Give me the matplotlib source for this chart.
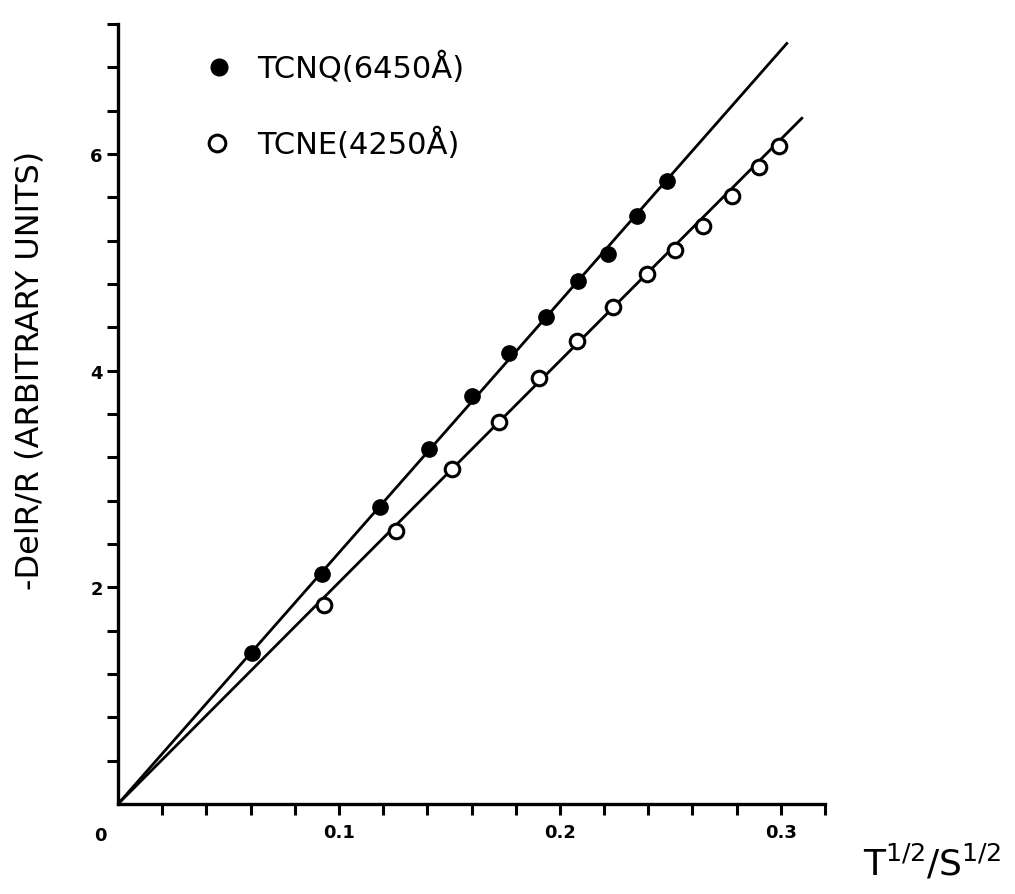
import numpy as np
import matplotlib
matplotlib.use("Agg")
import matplotlib.pyplot as plt

# Données
tcnq_x = [0.0606, 0.0923, 0.1186, 0.1407, 0.1602, 0.1769, 0.1937, 0.2081, 0.2217, 0.2348, 0.2484]
tcnq_y = [1.395, 2.12, 2.74, 3.28, 3.77, 4.16, 4.50, 4.83, 5.08, 5.43, 5.75]

tcne_x = [0.0932, 0.1258, 0.1511, 0.1724, 0.1905, 0.2077, 0.2240, 0.2394, 0.2520, 0.2647, 0.2778, 0.2900, 0.2991]
tcne_y = [1.84, 2.52, 3.09, 3.53, 3.93, 4.27, 4.59, 4.89, 5.11, 5.34, 5.61, 5.88, 6.07]

# Droites tracées à la main (origine -> extrémité)
tcnq_fit_x = [0.0, 0.3027]
tcnq_fit_y = [0.0, 7.02]
tcne_fit_x = [0.0, 0.3095]
tcne_fit_y = [0.0, 6.33]

x_ticks = np.arange(1, 17) * 0.02
x_labels = {0.1: "0.1", 0.2: "0.2", 0.3: "0.3"}
y_ticks = np.arange(1, 19) * 0.4
y_labels = {2: "2", 4: "4", 6: "6"}

legend_labels = ["TCNQ(6450Å)", "TCNE(4250Å)"]

fig = plt.figure(figsize=(10.15, 8.95), dpi=100)
ax = fig.add_axes([118 / 1015, 90 / 895, 707 / 1015, 780 / 895])

ax.plot(tcnq_fit_x, tcnq_fit_y, color="black", lw=2.0, zorder=2)
ax.plot(tcne_fit_x, tcne_fit_y, color="black", lw=2.0, zorder=2)
ax.plot(tcnq_x, tcnq_y, "o", color="black", ms=11, zorder=3)
ax.plot(tcne_x, tcne_y, "o", mfc="white", mec="black", mew=2.2, ms=10.5, zorder=3)

ax.set_xlim(0, 0.32)
ax.set_ylim(0, 7.2)

for s in ["top", "right"]:
    ax.spines[s].set_visible(False)
for s in ["left", "bottom"]:
    ax.spines[s].set_linewidth(2.4)

ax.set_xticks(x_ticks)
ax.set_xticklabels([x_labels.get(round(t, 2), "") for t in x_ticks])
ax.set_yticks(y_ticks)
ax.set_yticklabels([y_labels.get(round(t, 1), "") for t in y_ticks])
ax.tick_params(axis="both", direction="out", length=8, width=2.2, labelsize=13)
ax.tick_params(axis="x", pad=6)
ax.tick_params(axis="y", pad=3)
for lab in ax.get_xticklabels() + ax.get_yticklabels():
    lab.set_fontweight("bold")

# "0" à l'origine
ax.text(-0.025, -0.04, "0", transform=ax.transAxes, fontsize=13,
        fontweight="bold", ha="center", va="center")

# Légende dessinée à la main
ax.plot([0.0455], [6.80], "o", color="black", ms=12, clip_on=False)
ax.plot([0.0450], [6.10], "o", mfc="white", mec="black", mew=2.2, ms=12, clip_on=False)
ax.text(0.063, 6.80, legend_labels[0], fontsize=22, va="center", ha="left")
ax.text(0.063, 6.10, legend_labels[1], fontsize=22, va="center", ha="left")

fig.text(30 / 1015, 1 - 370 / 895, "-DelR/R (ARBITRARY UNITS)", rotation=90,
         fontsize=23, ha="center", va="center")
fig.text(932 / 1015, 1 - 863 / 895, r"T$^{1/2}$/S$^{1/2}$", fontsize=26,
         ha="center", va="center")

fig.savefig("out.png", dpi=100)
